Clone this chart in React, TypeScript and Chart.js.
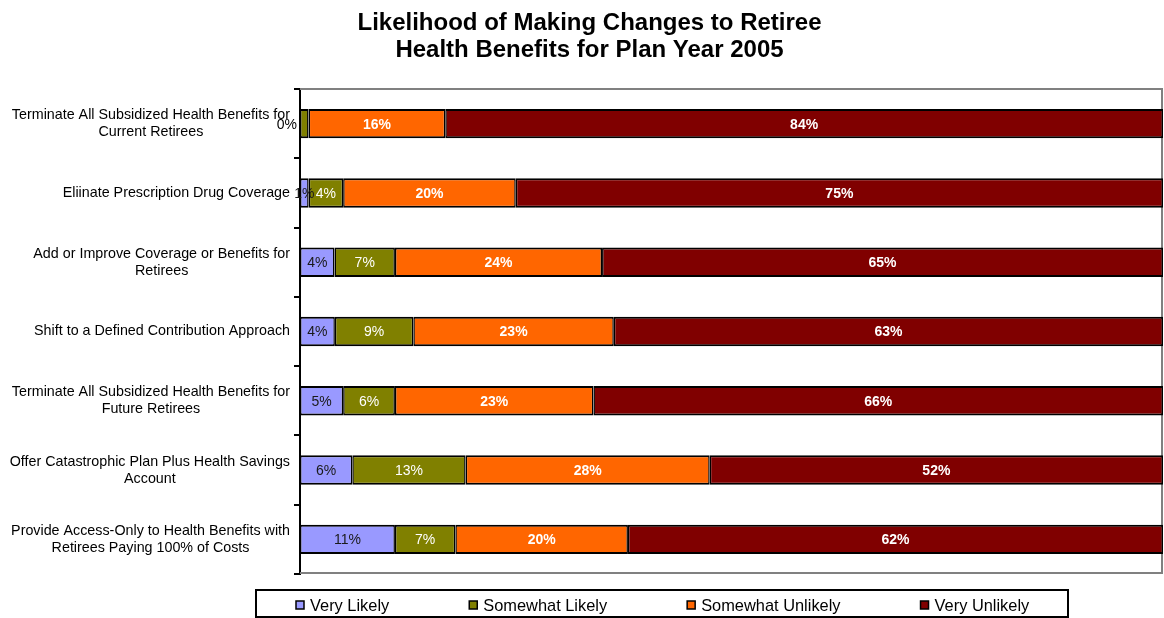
import React, { useEffect, useRef } from "react";
import { Chart, registerables } from "chart.js";

Chart.register(...registerables);

const FONT = '"Liberation Sans", Arial, Helvetica, sans-serif';

const titleLines = [
  "Likelihood of Making Changes to Retiree",
  "Health Benefits for Plan Year 2005",
];

const categories: (string | string[])[] = [
  ["Terminate All Subsidized Health Benefits for", "Current Retirees"],
  "Eliinate Prescription Drug Coverage",
  ["Add or Improve Coverage or Benefits for", "Retirees"],
  "Shift to a Defined Contribution Approach",
  ["Terminate All Subsidized Health Benefits for", "Future Retirees"],
  ["Offer Catastrophic Plan Plus Health Savings", "Account"],
  ["Provide Access-Only to Health Benefits with", "Retirees Paying 100% of Costs"],
];

const seriesNames = ["Very Likely", "Somewhat Likely", "Somewhat Unlikely", "Very Unlikely"];

const veryLikely = [0, 1, 4, 4, 5, 6, 11];
const somewhatLikely = [1, 4, 7, 9, 6, 13, 7];
const somewhatUnlikely = [16, 20, 24, 23, 23, 28, 20];
const veryUnlikely = [84, 75, 65, 63, 66, 52, 62];

const seriesValues = [veryLikely, somewhatLikely, somewhatUnlikely, veryUnlikely];
const seriesColors = ["#9999FF", "#808000", "#FF6600", "#800000"];
const labelColors = ["#1A1A1A", "#FFFFFF", "#FFFFFF", "#FFFFFF"];
const labelBold = [false, false, true, true];

// 100% stacked: each row normalised to its total
const rowTotals = categories.map((_, i) =>
  seriesValues.reduce((s, arr) => s + arr[i], 0)
);

const framePlugin = {
  id: "frame",
  beforeDatasetsDraw(chart: any) {
    const { ctx, chartArea } = chart;
    ctx.save();
    ctx.strokeStyle = "#808080";
    ctx.lineWidth = 2;
    ctx.beginPath();
    ctx.moveTo(chartArea.left, chartArea.top);
    ctx.lineTo(chartArea.right - 1, chartArea.top);
    ctx.lineTo(chartArea.right - 1, chartArea.bottom - 1);
    ctx.lineTo(chartArea.left, chartArea.bottom - 1);
    ctx.stroke();
    ctx.restore();
  },
};

const categoryLabelPlugin = {
  id: "categoryLabels",
  afterDraw(chart: any) {
    const { ctx, chartArea } = chart;
    const yScale = chart.scales.y;
    ctx.save();
    ctx.font = `14.3px ${FONT}`;
    ctx.fillStyle = "#000000";
    ctx.textAlign = "center";
    ctx.textBaseline = "middle";
    const lineH = 17;
    categories.forEach((cat, i) => {
      const lines = Array.isArray(cat) ? cat : [cat];
      const blockW = Math.max(...lines.map((l) => ctx.measureText(l).width));
      const cx = chartArea.left - 10 - blockW / 2;
      const cy = yScale.getPixelForValue(i);
      const startY = cy - ((lines.length - 1) * lineH) / 2;
      lines.forEach((l, k) => ctx.fillText(l, cx, startY + k * lineH));
    });
    ctx.restore();
  },
};

const valueLabelPlugin = {
  id: "valueLabels",
  afterDatasetsDraw(chart: any) {
    const { ctx, chartArea } = chart;
    ctx.save();
    ctx.textBaseline = "middle";
    const boxes: { l: number; r: number }[][] = categories.map(() => []);
    seriesValues.forEach((vals, d) => {
      const meta = chart.getDatasetMeta(d);
      ctx.font = `${labelBold[d] ? "bold " : ""}14px ${FONT}`;
      meta.data.forEach((el: any, j: number) => {
        const raw = vals[j];
        const text = `${raw}%`;
        const w = ctx.measureText(text).width;
        const p = el.getProps(["x", "y", "base"], true);
        let l: number, r: number, x: number;
        if (raw === 0) {
          r = chartArea.left - 3;
          l = r - w;
          x = r;
          ctx.textAlign = "right";
        } else {
          x = (p.x + p.base) / 2;
          l = x - w / 2;
          r = x + w / 2;
          ctx.textAlign = "center";
        }
        const collide = boxes[j].some((b) => l < b.r && r > b.l);
        if (collide) return;
        boxes[j].push({ l, r });
        ctx.fillStyle = raw === 0 ? "#000000" : labelColors[d];
        ctx.fillText(text, x, p.y + 1);
      });
    });
    ctx.restore();
  },
};

const legendPlugin = {
  id: "boxLegend",
  afterDraw(chart: any) {
    const { ctx } = chart;
    ctx.save();
    ctx.strokeStyle = "#000000";
    ctx.lineWidth = 2;
    ctx.strokeRect(256, 590, 812, 27);
    ctx.font = `16.4px ${FONT}`;
    ctx.textBaseline = "middle";
    ctx.textAlign = "left";
    let x = 296;
    seriesNames.forEach((name, i) => {
      ctx.fillStyle = seriesColors[i];
      ctx.fillRect(x, 601, 8, 8);
      ctx.lineWidth = 1.5;
      ctx.strokeStyle = "#000000";
      ctx.strokeRect(x, 601, 8, 8);
      ctx.fillStyle = "#000000";
      ctx.fillText(name, x + 14, 606);
      x += 14 + ctx.measureText(name).width + 80;
    });
    ctx.restore();
  },
};

export default function App() {
  const canvasRef = useRef<HTMLCanvasElement | null>(null);

  useEffect(() => {
    document.body.style.margin = "0";
    const canvas = canvasRef.current;
    if (!canvas) return;
    const chart = new Chart(canvas, {
      type: "bar",
      data: {
        labels: categories as any,
        datasets: seriesValues.map((vals, d) => ({
          label: seriesNames[d],
          data: vals.map((v, i) => (v / rowTotals[i]) * 100),
          backgroundColor: seriesColors[d],
          borderColor: "#000000",
          borderWidth: { top: 2, bottom: 2, left: 1.5, right: 1.5 },
          borderSkipped: false,
          inflateAmount: 0,
          categoryPercentage: 1,
          barPercentage: 0.425,
        })),
      },
      options: {
        indexAxis: "y",
        responsive: false,
        animation: false,
        layout: { padding: { left: 16, right: 1, top: 0, bottom: 44 } },
        plugins: {
          legend: { display: false },
          tooltip: { enabled: false },
          title: {
            display: true,
            text: titleLines,
            color: "#000000",
            font: { family: FONT, size: 24, weight: "bold", lineHeight: 1.125 },
            padding: { top: 10, bottom: 25 },
          },
        },
        scales: {
          x: {
            stacked: true,
            display: false,
            min: 0,
            max: 100,
          },
          y: {
            stacked: true,
            ticks: { display: false },
            grid: {
              drawOnChartArea: false,
              drawTicks: true,
              tickLength: 6,
              color: "#000000",
              lineWidth: 2,
            },
            border: { display: true, color: "#000000", width: 2 },
            afterFit(scale: any) {
              scale.width = 284;
            },
          },
        },
      },
      plugins: [framePlugin, categoryLabelPlugin, valueLabelPlugin, legendPlugin],
    } as any);
    return () => chart.destroy();
  }, []);

  return (
    <canvas
      ref={canvasRef}
      width={1164}
      height={618}
      style={{ display: "block", width: 1164, height: 618 }}
    />
  );
}
